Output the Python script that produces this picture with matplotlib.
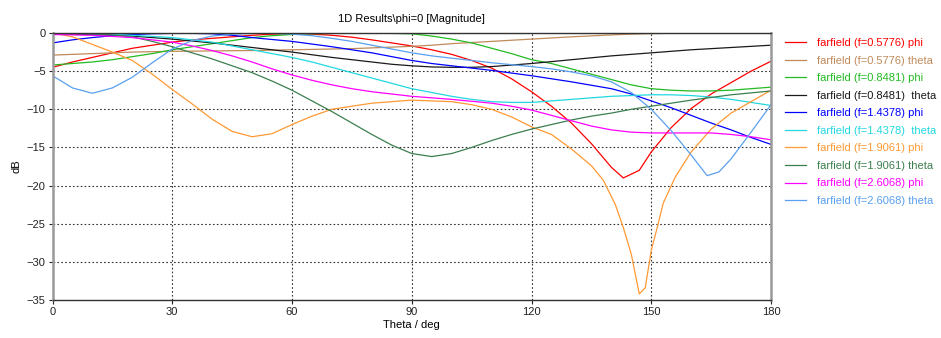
import numpy as np
import matplotlib
matplotlib.use("Agg")
import matplotlib.pyplot as plt

plt.rcParams['font.family'] = ['Liberation Sans', 'DejaVu Sans']

theta5 = np.arange(0, 181, 5)

# farfield (f=0.5776) phi
theta_r = [0,5,10,15,20,25,30,35,40,45,50,55,60,65,70,75,80,85,90,95,100,105,110,115,120,125,130,135,140,143,147,150,155,160,165,170,175,180]
red_phi = [-4.5,-3.8,-3.2,-2.6,-2.0,-1.6,-1.2,-0.9,-0.7,-0.5,-0.3,-0.15,-0.1,-0.15,-0.3,-0.55,-0.9,-1.3,-1.7,-2.2,-2.8,-3.6,-4.6,-6.0,-7.7,-9.6,-11.8,-14.5,-17.6,-19.0,-18.0,-15.6,-12.4,-9.9,-8.0,-6.5,-5.0,-3.7]
# farfield (f=0.5776) theta
brown_theta = [-2.9,-2.8,-2.7,-2.6,-2.5,-2.45,-2.4,-2.38,-2.35,-2.32,-2.3,-2.25,-2.2,-2.15,-2.1,-2.05,-1.95,-1.85,-1.75,-1.6,-1.4,-1.25,-1.1,-0.95,-0.8,-0.65,-0.5,-0.38,-0.25,-0.15,-0.08,-0.04,-0.02,0,0,0,0]
# farfield (f=0.8481) phi
green_phi = [-4.2,-4.0,-3.8,-3.5,-3.1,-2.7,-2.2,-1.8,-1.4,-1.0,-0.6,-0.35,-0.2,-0.1,-0.05,0,0,-0.05,-0.1,-0.4,-0.8,-1.3,-2.0,-2.7,-3.5,-4.0,-4.7,-5.4,-6.1,-6.8,-7.3,-7.5,-7.6,-7.6,-7.5,-7.3,-7.1]
# farfield (f=0.8481) theta
black_theta = [-0.1,-0.15,-0.2,-0.3,-0.4,-0.6,-0.8,-1.05,-1.3,-1.6,-1.9,-2.2,-2.5,-2.85,-3.2,-3.5,-3.8,-4.1,-4.3,-4.45,-4.5,-4.5,-4.4,-4.2,-4.0,-3.75,-3.5,-3.25,-3.0,-2.8,-2.6,-2.4,-2.2,-2.05,-1.9,-1.75,-1.6]
# farfield (f=1.4378) phi
blue_phi = [-1.3,-0.9,-0.6,-0.35,-0.2,-0.1,-0.05,-0.05,-0.1,-0.3,-0.6,-0.85,-1.1,-1.45,-1.8,-2.2,-2.6,-3.1,-3.6,-4.0,-4.3,-4.6,-4.9,-5.25,-5.6,-6.0,-6.4,-6.85,-7.3,-8.0,-8.9,-9.8,-10.8,-11.8,-12.7,-13.7,-14.6]
# farfield (f=1.4378) theta
cyan_theta = [-0.05,-0.05,-0.1,-0.2,-0.3,-0.45,-0.6,-0.9,-1.2,-1.7,-2.2,-2.7,-3.2,-3.8,-4.5,-5.2,-5.9,-6.6,-7.3,-7.8,-8.3,-8.7,-9.0,-9.1,-9.1,-8.9,-8.7,-8.5,-8.3,-8.2,-8.1,-8.1,-8.2,-8.4,-8.7,-9.1,-9.5]
# farfield (f=1.9061) phi
theta_o = [0,5,10,15,20,25,30,35,40,45,50,55,60,65,70,75,80,85,90,95,100,105,110,115,120,125,130,135,138,141,143,145,147,148.5,150,151.5,153,156,160,165,170,175,180]
orange_phi = [0,-0.5,-1.5,-2.5,-3.6,-5.4,-7.4,-9.3,-11.3,-12.9,-13.6,-13.2,-12.0,-10.9,-10.0,-9.6,-9.2,-9.0,-8.8,-8.9,-9.0,-9.4,-10.0,-11.0,-12.3,-13.3,-15.2,-17.4,-19.3,-22.5,-25.5,-29.0,-34.2,-33.4,-28.5,-25.5,-22.3,-18.9,-15.6,-12.6,-10.5,-9.0,-7.5]
# farfield (f=1.9061) theta
dkgreen_theta = [0,-0.02,-0.1,-0.25,-0.5,-1.1,-1.8,-2.6,-3.4,-4.3,-5.2,-6.3,-7.5,-8.9,-10.3,-11.8,-13.3,-14.7,-15.8,-16.2,-15.8,-15.0,-14.1,-13.3,-12.6,-12.0,-11.4,-10.9,-10.5,-10.0,-9.6,-9.2,-8.8,-8.45,-8.1,-7.85,-7.6]
# farfield (f=2.6068) phi
magenta_phi = [-0.2,-0.25,-0.3,-0.45,-0.6,-0.9,-1.2,-1.7,-2.3,-3.0,-3.8,-4.7,-5.5,-6.2,-6.8,-7.3,-7.7,-8.0,-8.3,-8.5,-8.7,-8.95,-9.2,-9.6,-10.1,-10.8,-11.5,-12.2,-12.7,-13.0,-13.1,-13.1,-13.1,-13.1,-13.3,-13.6,-14.0]
# farfield (f=2.6068) theta
theta_lb = [0,5,10,15,20,25,30,35,40,45,50,55,60,65,70,75,80,85,90,95,100,105,110,115,120,125,130,135,140,145,150,155,160,164,167,170,175,180]
ltblue_theta = [-5.6,-7.2,-7.9,-7.2,-5.8,-3.9,-2.1,-1.0,-0.4,-0.15,-0.05,-0.05,-0.15,-0.35,-0.7,-1.1,-1.6,-2.1,-2.6,-3.0,-3.3,-3.6,-3.9,-4.15,-4.4,-4.7,-5.1,-5.6,-6.4,-7.8,-10.0,-12.8,-16.0,-18.7,-18.2,-16.5,-13.0,-9.4]

labels = ["farfield (f=0.5776) phi", "farfield (f=0.5776) theta",
          "farfield (f=0.8481) phi", "farfield (f=0.8481)  theta",
          "farfield (f=1.4378) phi", "farfield (f=1.4378)  theta",
          "farfield (f=1.9061) phi", "farfield (f=1.9061) theta",
          "farfield (f=2.6068) phi", "farfield (f=2.6068) theta"]
colors = ["#FF0000", "#C08A5A", "#22BB22", "#1A1A1A", "#0000FF",
          "#22D8E0", "#FF9933", "#3C7F4F", "#FF00FF", "#5AA0F0"]
series = [(theta_r, red_phi), (theta5, brown_theta), (theta5, green_phi),
          (theta5, black_theta), (theta5, blue_phi), (theta5, cyan_theta),
          (theta_o, orange_phi), (theta5, dkgreen_theta), (theta5, magenta_phi),
          (theta_lb, ltblue_theta)]

fig = plt.figure(figsize=(9.41, 3.38), dpi=100)
ax = fig.add_axes([52.5/941, 1-300/338, (771-52.5)/941, (300-33)/338])

for (x, y), c, lab in zip(series, colors, labels):
    ax.plot(x, y, color=c, lw=0.9, label=lab)

ax.set_xlim(0, 180)
ax.set_ylim(-35, 0)
ax.set_xticks([0, 30, 60, 90, 120, 150, 180])
ax.set_yticks([0, -5, -10, -15, -20, -25, -30, -35])
ax.grid(True, color='#333333', linestyle=(0, (1.5, 2)), linewidth=0.8)
ax.tick_params(labelsize=8, length=3, width=0.8, colors='#222222', pad=2)
for s in ['top', 'bottom']:
    ax.spines[s].set_color('#333333')
    ax.spines[s].set_linewidth(1.0)
for s in ['left', 'right']:
    ax.spines[s].set_color('#999999')
    ax.spines[s].set_linewidth(1.8)

ax.set_title("1D Results\\phi=0 [Magnitude]", fontsize=8, pad=8)
ax.set_xlabel("Theta / deg", fontsize=8, labelpad=2)
ax.set_ylabel("dB", fontsize=8, labelpad=4)

leg = ax.legend(loc='upper left', bbox_to_anchor=(785/941, 1-38/338),
                bbox_transform=fig.transFigure, frameon=False, fontsize=8,
                handlelength=1.9, handletextpad=1.0, labelspacing=0.68,
                borderaxespad=0, borderpad=0)
for t, c in zip(leg.get_texts(), colors):
    t.set_color(c)

fig.savefig("out.png", dpi=100)
